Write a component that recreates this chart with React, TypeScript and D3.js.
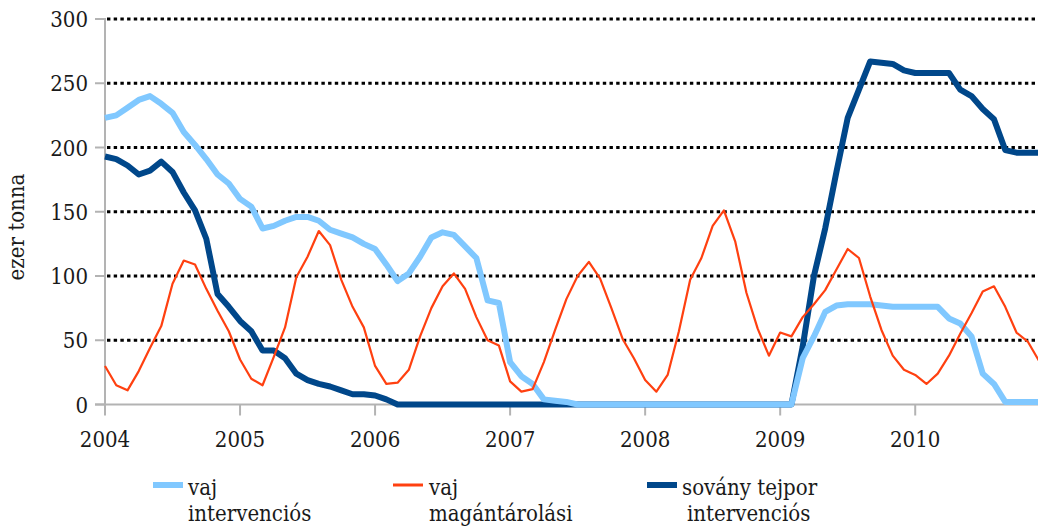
import * as d3 from "d3";

// tick labels
const years = ["2004", "2005", "2006", "2007", "2008", "2009", "2010"];
const yTicks = [0, 50, 100, 150, 200, 250, 300];

// monthly stocks, ezer tonna, Jan 2004 .. Dec 2010
const vajIntervencios = [
  223, 225, 231, 237, 240, 234, 227, 212, 202, 191, 179, 172,
  160, 154, 137, 139, 143, 146, 146, 143, 136, 133, 130, 125,
  121, 109, 96, 102, 115, 130, 134, 132, 123, 114, 81, 79,
  33, 22, 16, 4, 3, 2, 0, 0, 0, 0, 0, 0,
  0, 0, 0, 0, 0, 0, 0, 0, 0, 0, 0, 0,
  0, 0, 36, 53, 72, 77, 78, 78, 78, 77, 76, 76,
  76, 76, 76, 67, 63, 53, 24, 16, 2, 2, 2, 2,
];

const vajMagantarolasi = [
  30, 15, 11, 26, 44, 61, 94, 112, 109, 90, 73, 57,
  35, 20, 15, 37, 60, 99, 115, 135, 124, 97, 76, 60,
  30, 16, 17, 27, 53, 75, 92, 102, 90, 68, 50, 46,
  18, 10, 12, 33, 58, 82, 100, 111, 98, 75, 51, 36,
  19, 10, 23, 57, 97, 114, 139, 151, 127, 87, 59, 38,
  56, 53, 68, 78, 89, 105, 121, 114, 84, 58, 38, 27,
  23, 16, 24, 38, 55, 71, 88, 92, 76, 56, 49, 34,
];

const sovanyTejpor = [
  193, 191, 186, 179, 182, 189, 181, 165, 151, 129, 86, 76,
  65, 57, 42, 42, 36, 24, 19, 16, 14, 11, 8, 8,
  7, 4, 0, 0, 0, 0, 0, 0, 0, 0, 0, 0,
  0, 0, 0, 0, 0, 0, 0, 0, 0, 0, 0, 0,
  0, 0, 0, 0, 0, 0, 0, 0, 0, 0, 0, 0,
  0, 0, 45, 100, 137, 181, 223, 245, 267, 266, 265, 260,
  258, 258, 258, 258, 245, 240, 230, 222, 198, 196, 196, 196,
];

const width = 1038;
const height = 528;
const font = '"DejaVu Serif Condensed", "DejaVu Serif", serif';

const x = d3.scaleLinear().domain([0, 83]).range([105, 1039]);
const y = d3.scaleLinear().domain([0, 300]).range([404.5, 19]);

const line = d3
  .line<number>()
  .x((d, i) => x(i))
  .y((d) => y(d));

const series = [
  { name: ["sovány tejpor", "intervenciós"], data: sovanyTejpor, color: "#00478A", w: 6, lx: 647, tx: [682, 687] },
  { name: ["vaj", "intervenciós"], data: vajIntervencios, color: "#80C8FF", w: 6, lx: 153, tx: [188, 188] },
  { name: ["vaj", "magántárolási"], data: vajMagantarolasi, color: "#FF4010", w: 2.2, lx: 393, tx: [429, 429] },
];

const txt = { fontFamily: font, fontStretch: "condensed", fontSize: 22, fill: "#1a1a1a" };

export default function App() {
  const yearTicks = d3.range(0, 85, 12);
  return (
    <div style={{ position: "absolute", left: 0, top: 0 }}>
      <svg width={width} height={height} style={{ display: "block", background: "#fff" }}>
        {/* gridlines */}
        {yTicks.filter((t) => t > 0).map((t) => (
          <line key={t} x1={x(0) + 2} x2={width} y1={y(t)} y2={y(t)}
            stroke="#000" strokeWidth={2.8} strokeDasharray="3.4 3.3" />
        ))}

        {/* y axis */}
        <line x1={x(0)} x2={x(0)} y1={y(300) - 1} y2={y(0)} stroke="#b3b3b3" strokeWidth={2} />
        {yTicks.map((t) => (
          <g key={t}>
            <line x1={x(0) - 10} x2={x(0)} y1={y(t)} y2={y(t)} stroke="#b3b3b3" strokeWidth={2} />
            <text x={88} y={y(t) + 8} textAnchor="end" style={txt}>{t}</text>
          </g>
        ))}
        <text transform="translate(24,227) rotate(-90)" textAnchor="middle" style={txt}>ezer tonna</text>

        {/* x axis */}
        <line x1={x(0) - 10} x2={width} y1={y(0)} y2={y(0)} stroke="#b3b3b3" strokeWidth={2} />
        {yearTicks.map((i) => (
          <line key={i} x1={x(i)} x2={x(i)} y1={y(0)} y2={y(0) + 11} stroke="#b3b3b3" strokeWidth={2} />
        ))}
        {years.map((label, k) => (
          <text key={label} x={x(k * 12)} y={447} textAnchor="middle" style={txt}>{label}</text>
        ))}

        {/* series */}
        {series.map((s) => (
          <path key={s.color} d={line(s.data) ?? ""} fill="none" stroke={s.color}
            strokeWidth={s.w} strokeLinejoin="round" />
        ))}

        {/* legend */}
        {[series[1], series[2], series[0]].map((s) => (
          <g key={s.color}>
            <line x1={s.lx} x2={s.lx + 30} y1={485} y2={485} stroke={s.color} strokeWidth={s.w === 6 ? 6 : 3} />
            <text x={s.tx[0]} y={495} style={txt}>{s.name[0]}</text>
            <text x={s.tx[1]} y={521} style={txt}>{s.name[1]}</text>
          </g>
        ))}
      </svg>
    </div>
  );
}
